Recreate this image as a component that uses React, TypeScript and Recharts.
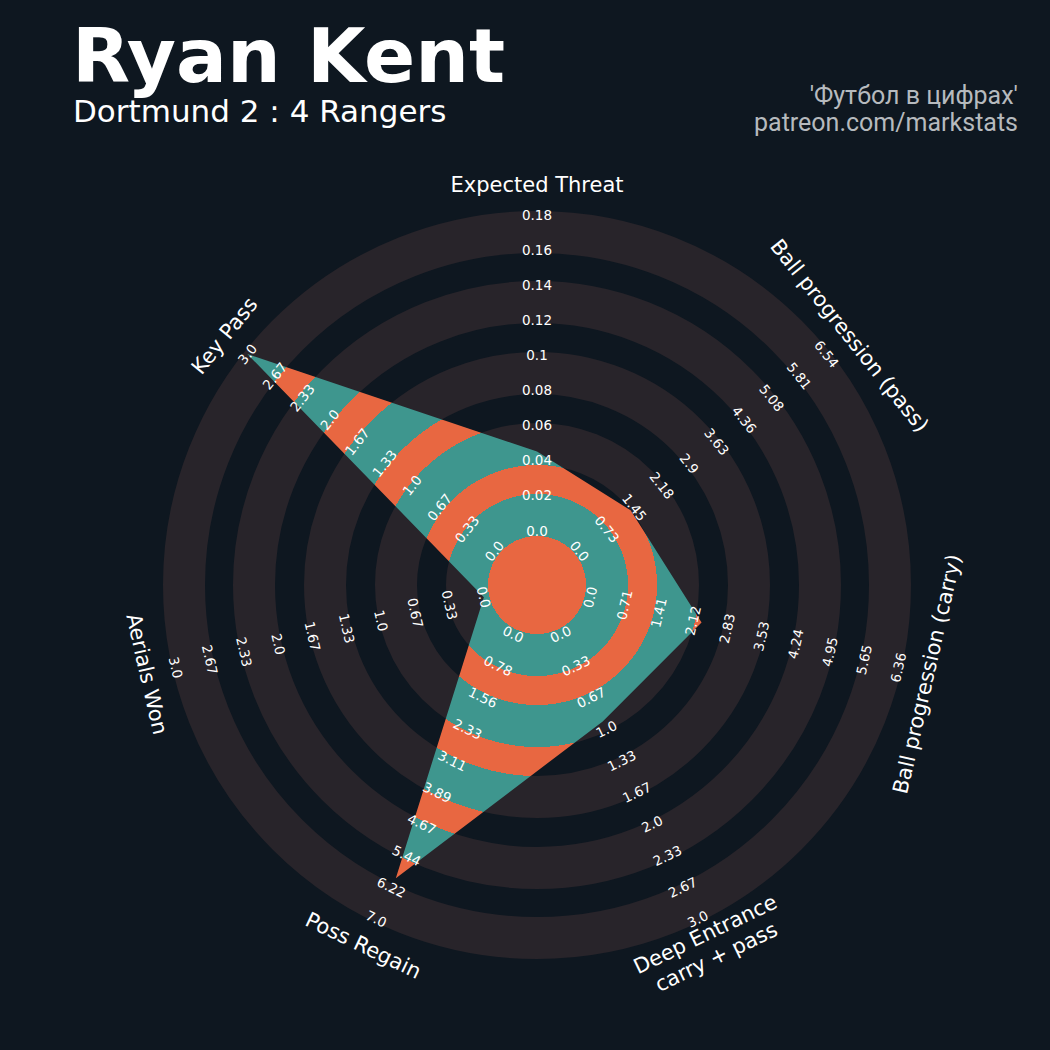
import React from 'react';
import { RadarChart, Radar, PolarGrid, PolarAngleAxis, PolarRadiusAxis } from 'recharts';

// radar parameters, clockwise from the top
const params = [
  'Expected Threat',
  'Ball progression (pass)',
  'Ball progression (carry)',
  'Deep Entrance\ncarry + pass',
  'Poss Regain',
  'Aerials Won',
  'Key Pass',
];

// Ryan Kent values per parameter
const values = [0.045, 1.35, 2.3, 0.92, 6.0, 0, 3.0];

// upper end of each parameter's range (lower end is 0)
const rangeMax = [0.18, 6.54, 6.36, 3.0, 7.0, 3.0, 3.0];

// range labels printed along each spoke
const ticksXT = ['0.0', '0.02', '0.04', '0.06', '0.08', '0.1', '0.12', '0.14', '0.16', '0.18'];
const ticksPass = ['0.0', '0.73', '1.45', '2.18', '2.9', '3.63', '4.36', '5.08', '5.81', '6.54'];
const ticksCarry = ['0.0', '0.71', '1.41', '2.12', '2.83', '3.53', '4.24', '4.95', '5.65', '6.36'];
const ticksDeep = ['0.0', '0.33', '0.67', '1.0', '1.33', '1.67', '2.0', '2.33', '2.67', '3.0'];
const ticksRegain = ['0.0', '0.78', '1.56', '2.33', '3.11', '3.89', '4.67', '5.44', '6.22', '7.0'];
const ticksAerial = ['0.0', '0.33', '0.67', '1.0', '1.33', '1.67', '2.0', '2.33', '2.67', '3.0'];
const ticksKeyPass = ['0.0', '0.33', '0.67', '1.0', '1.33', '1.67', '2.0', '2.33', '2.67', '3.0'];
const tickLabels = [ticksXT, ticksPass, ticksCarry, ticksDeep, ticksRegain, ticksAerial, ticksKeyPass];

const STEPS = 9;
const data = params.map((p, i) => ({ param: p, norm: (values[i] / rangeMax[i]) * STEPS }));

const BG = '#0e1720';
const RING = '#28242a';
const TEAL = '#3e968e';
const ORANGE = '#e86741';

const CX = 537;
const CY = 585;
const INNER = 54.5;
const OUTER = 370.5;
const LABEL_R = 400;

// ring edges in px (grey / dark alternate outwards from the centre circle)
const EDGES = [49, 91, 120, 162, 191, 233, 262, 304, 332, 374];
const greyCentres = [0, 2, 4, 6, 8].map(i => (EDGES[i] + EDGES[i + 1]) / 2);

// rotation so text sits perpendicular to the spoke and stays readable
function textRot(theta: number) {
  let r = theta - 90;
  while (r <= -90) r += 180;
  while (r > 90) r -= 180;
  return -r;
}

const spokeAngle = (i: number) => 90 - (i * 360) / params.length;

// one radius tick per ring step: the label is repeated on every spoke at that radius
const RangeTick = (props: any) => {
  const { x, y, payload } = props;
  const cx = typeof props.cx === 'number' ? props.cx : CX;
  const cy = typeof props.cy === 'number' ? props.cy : CY;
  const radius = Math.hypot(x - cx, y - cy);
  const k = Math.round(payload.value);
  return (
    <g>
      {tickLabels.map((labels, axis) => {
        const label = labels[k];
        if (label === undefined) return null;
        const a = (spokeAngle(axis) * Math.PI) / 180;
        const px = cx + radius * Math.cos(a);
        const py = cy - radius * Math.sin(a);
        const rot = textRot(spokeAngle(axis));
        return (
          <text
            key={axis}
            x={px}
            y={py}
            transform={`rotate(${rot}, ${px}, ${py})`}
            textAnchor="middle"
            dominantBaseline="central"
            fill="#ffffff"
            fontSize={13.5}
            fontFamily="DejaVu Sans"
          >
            {label}
          </text>
        );
      })}
    </g>
  );
};

const ParamTick = (props: any) => {
  const { x, y, index, payload } = props;
  const cx = typeof props.cx === 'number' ? props.cx : CX;
  const cy = typeof props.cy === 'number' ? props.cy : CY;
  const dx = x - cx;
  const dy = y - cy;
  const len = Math.hypot(dx, dy) || 1;
  const px = cx + (dx / len) * LABEL_R;
  const py = cy + (dy / len) * LABEL_R;
  const rot = textRot(spokeAngle(index));
  const lines = String(payload.value).split('\n');
  return (
    <text
      x={px}
      y={py}
      transform={`rotate(${rot}, ${px}, ${py})`}
      textAnchor="middle"
      fill="#ffffff"
      fontSize={21}
      fontFamily="DejaVu Sans"
    >
      {lines.map((l, i) => (
        <tspan key={i} x={px} dy={i === 0 ? `${0.35 - ((lines.length - 1) / 2) * 1.2}em` : '1.2em'}>
          {l}
        </tspan>
      ))}
    </text>
  );
};

export default function App() {
  const stops: React.ReactNode[] = [];
  let prev = 0;
  EDGES.forEach((e, i) => {
    const color = i % 2 === 0 ? ORANGE : TEAL;
    stops.push(<stop key={`a${i}`} offset={prev / 374} stopColor={color} />);
    stops.push(<stop key={`b${i}`} offset={e / 374} stopColor={color} />);
    prev = e;
  });

  return (
    <div style={{ position: 'absolute', left: 0, top: 0, width: 1050, height: 1050, background: BG, overflow: 'hidden' }}>
      <RadarChart
        width={1050}
        height={1050}
        data={data}
        cx={CX}
        cy={CY}
        innerRadius={INNER}
        outerRadius={OUTER}
        margin={{ top: 0, right: 0, bottom: 0, left: 0 }}
      >
        <defs>
          <radialGradient id="bands" gradientUnits="userSpaceOnUse" cx={CX} cy={CY} r={374} fx={CX} fy={CY}>
            {stops}
          </radialGradient>
        </defs>
        <PolarGrid
          gridType="circle"
          radialLines={false}
          polarRadius={greyCentres}
          stroke={RING}
          strokeWidth={42}
        />
        <PolarGrid
          gridType="circle"
          radialLines={false}
          polarRadius={[24.5]}
          stroke={ORANGE}
          strokeWidth={49}
        />
        <PolarRadiusAxis
          angle={90}
          type="number"
          domain={[0, STEPS]}
          ticks={[0, 1, 2, 3, 4, 5, 6, 7, 8, 9]}
          tickCount={10}
          allowDecimals={false}
          axisLine={false}
          tickLine={false}
          tick={<RangeTick />}
        />
        <PolarAngleAxis dataKey="param" tick={<ParamTick />} tickLine={false} axisLine={false} />
        <Radar
          dataKey="norm"
          fill="url(#bands)"
          fillOpacity={1}
          stroke="none"
          dot={false}
          isAnimationActive={false}
        />
      </RadarChart>
      <svg width={1050} height={1050} style={{ position: 'absolute', left: 0, top: 0, pointerEvents: 'none' }}>
        <text x={72} y={82} fill="#ffffff" fontSize={75.5} fontWeight="bold" fontFamily="DejaVu Sans">
          Ryan Kent
        </text>
        <text x={73} y={122} fill="#ffffff" fontSize={31} fontFamily="DejaVu Sans">
          Dortmund 2 : 4 Rangers
        </text>
        <text x={1018} y={104} fill="#b6babe" fontSize={25} fontFamily="Roboto" textAnchor="end">
          'Футбол в цифрах'
        </text>
        <text x={1018} y={131} fill="#b6babe" fontSize={25} fontFamily="Roboto" textAnchor="end">
          patreon.com/markstats
        </text>
      </svg>
    </div>
  );
}
